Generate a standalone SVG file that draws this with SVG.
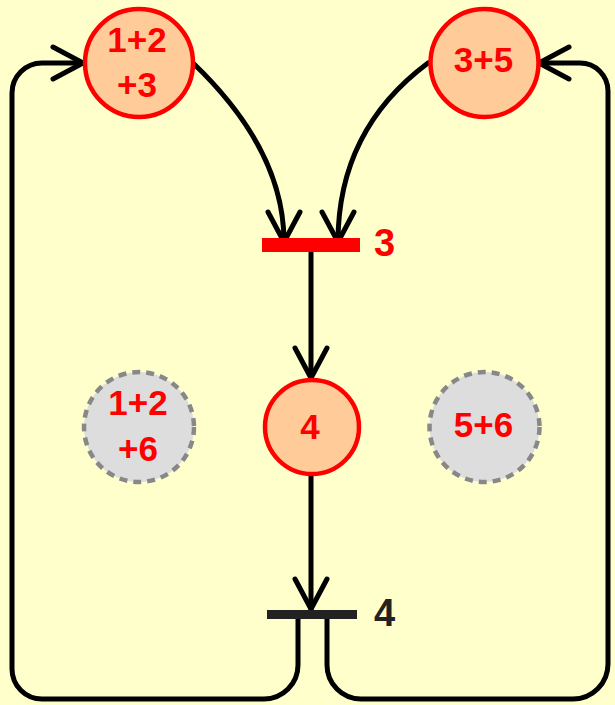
<svg xmlns="http://www.w3.org/2000/svg" width="615" height="705" viewBox="0 0 615 705">
<style>
.place{fill:#FFCC99;stroke:#FF0000;stroke-width:4.5}
.ghost{fill:#DDDDDD;stroke:#888888;stroke-width:4.5;stroke-dasharray:8 6}
.t{font-family:"Liberation Sans",Arial,sans-serif;font-weight:bold;font-size:35px;fill:#FF0000;text-anchor:middle}
.lbl{font-family:"Liberation Sans",Arial,sans-serif;font-weight:bold;font-size:38px}
.arc{fill:none;stroke:#000;stroke-width:5;stroke-linecap:round;stroke-linejoin:round}
</style>
<defs>
<marker id="ah" markerUnits="userSpaceOnUse" orient="auto" refX="0" refY="0" markerWidth="40" markerHeight="40" overflow="visible">
<path d="M-30,-16 L0,0 L-30,16" fill="none" stroke="#000" stroke-width="5" stroke-linecap="round" stroke-linejoin="round"/>
</marker>
</defs>
<rect width="615" height="705" fill="#FFFFCC"/>
<g id="connectors">
<path class="arc" d="M193,63 Q284,150 284,242" marker-end="url(#ah)"/>
<path class="arc" d="M428,63 Q338,130 338,242" marker-end="url(#ah)"/>
<path class="arc" d="M311,253 L311,378" marker-end="url(#ah)"/>
<path class="arc" d="M311,475 L311,609" marker-end="url(#ah)"/>
<path class="arc" d="M298,618 L298,665 A34,34 0 0 1 264,699 L42,699 A30,30 0 0 1 12,669 L12,93 A30,30 0 0 1 42,63 L83,63" marker-end="url(#ah)"/>
<path class="arc" d="M327,618 L327,665 A34,34 0 0 0 361,699 L573,699 A35,35 0 0 0 608,664 L608,91 A28,28 0 0 0 580,63 L539,63" marker-end="url(#ah)"/>
</g>
<g id="p123">
<circle class="place" cx="139" cy="63" r="54"/>
<text class="t" x="137" y="52">1+2</text>
<text class="t" x="137" y="97">+3</text>
</g>
<g id="p35">
<circle class="place" cx="484.5" cy="63" r="54"/>
<text class="t" x="483.5" y="72">3+5</text>
</g>
<g id="t3">
<rect x="262" y="238" width="98" height="14" fill="#FF0000"/>
<text class="lbl" x="374" y="256" fill="#FF0000">3</text>
</g>
<g id="p4">
<circle class="place" cx="312" cy="427" r="47"/>
<text class="t" x="310" y="439">4</text>
</g>
<g id="p126">
<circle class="ghost" cx="139" cy="427" r="55"/>
<text class="t" x="138" y="415">1+2</text>
<text class="t" x="138" y="461">+6</text>
</g>
<g id="p56">
<circle class="ghost" cx="484.5" cy="427" r="55"/>
<text class="t" x="483.5" y="437">5+6</text>
</g>
<g id="t4">
<rect x="267" y="610" width="90" height="9" fill="#222222"/>
<text class="lbl" x="374" y="626" fill="#222222">4</text>
</g>
</svg>
